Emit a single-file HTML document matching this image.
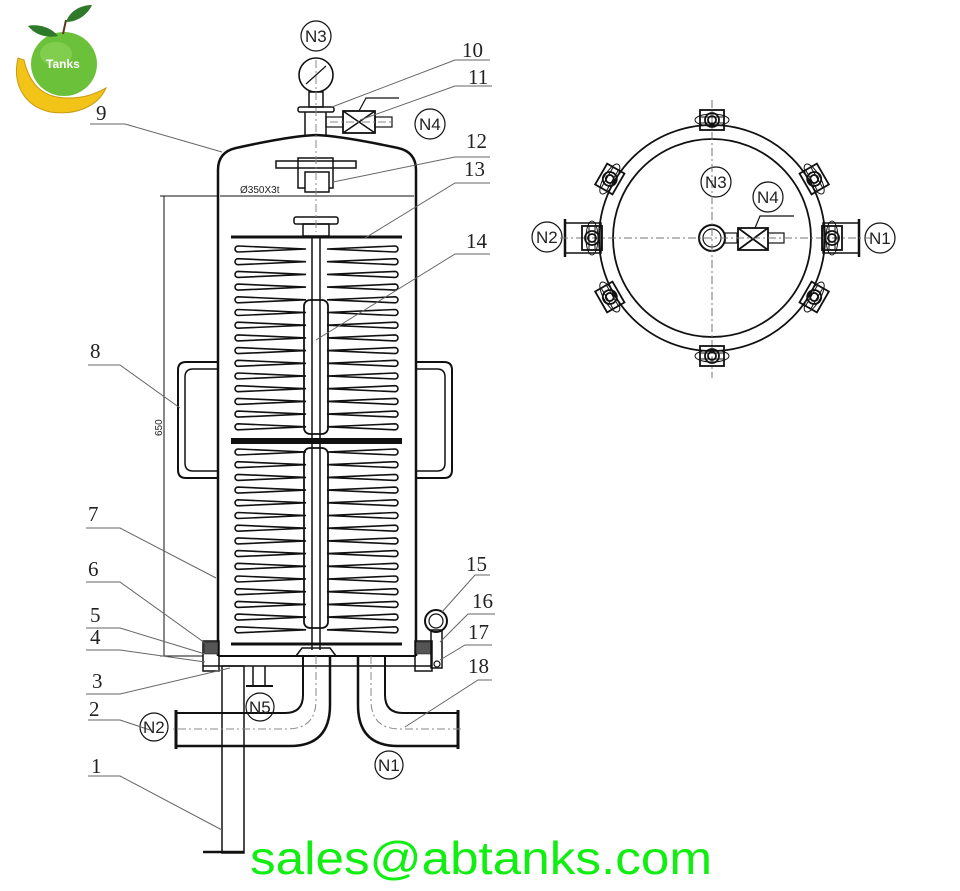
<!DOCTYPE html>
<html><head><meta charset="utf-8">
<style>
html,body{margin:0;padding:0;background:#fff;}
svg{display:block;}
text{font-family:"Liberation Serif",serif;fill:#222;}
.n text{font-family:"Liberation Sans",sans-serif;font-size:17px;}
</style></head>
<body>
<svg id="s" width="960" height="891" viewBox="0 0 960 891" xmlns="http://www.w3.org/2000/svg">
<!-- logo -->
<g>
  <path d="M18,58 C12,84 24,106 50,112 C76,116 98,106 106,88 C98,92 88,98 68,98 C44,98 30,86 24,60 Z" fill="#f2c418" stroke="#c99a10" stroke-width="1"/>
  <ellipse cx="64" cy="64" rx="33" ry="32" fill="#6cc13a"/>
  <ellipse cx="56" cy="54" rx="16" ry="12" fill="#8fd65a" opacity="0.6"/>
  <path d="M63,34 L66,20" stroke="#5a3a1a" stroke-width="2"/>
  <path d="M66,22 C70,10 82,5 92,5 C88,14 78,22 66,22 Z" fill="#2f7a2a"/>
  <path d="M58,36 C50,26 36,24 28,26 C36,36 48,38 58,36 Z" fill="#2f7a2a"/>
  <text x="46" y="68" style="font-family:'Liberation Sans',sans-serif;font-size:12px;font-weight:bold;fill:#fff">Tanks</text>
</g>

<g fill="none" stroke="#111" stroke-width="1.5" id="main">
  <circle cx="316" cy="36" r="15" stroke-width="1.2"/>
  <circle cx="316" cy="75" r="17" stroke-width="1.6"/>
  <line x1="306" y1="84" x2="326" y2="66" stroke-width="1.2"/>
  <rect x="309" y="92" width="14" height="15"/>
  <rect x="298" y="107" width="36" height="5" rx="2"/>
  <line x1="305" y1="112" x2="305" y2="136"/><line x1="326" y1="112" x2="326" y2="136"/>
  <rect x="326" y="117" width="17" height="10" stroke-width="1.2"/>
  <rect x="343" y="111" width="32" height="22" stroke-width="1.8"/>
  <line x1="343" y1="111" x2="375" y2="133"/><line x1="375" y1="111" x2="343" y2="133"/>
  <rect x="375" y="117" width="17" height="10" stroke-width="1.2"/>
  <polyline points="359,111 366,98 399,98" stroke-width="1.2"/>
  <circle cx="430" cy="124" r="15" stroke-width="1.2"/>

  <path d="M218,656 L218,170 Q218,152 236,148 Q290,136 316,135 Q342,136 398,148 Q416,152 416,170 L416,656" stroke-width="2.5"/>
  <line x1="218" y1="656" x2="416" y2="656" stroke-width="2"/>
  <line x1="203" y1="666" x2="432" y2="666" stroke-width="1.5"/>
  <rect x="203" y="641" width="16" height="30" stroke-width="1.5"/>
  <rect x="415" y="641" width="17" height="30" stroke-width="1.5"/>
  <rect x="204" y="642" width="14" height="12" fill="#555" stroke-width="0.5"/>
  <rect x="416" y="642" width="15" height="12" fill="#555" stroke-width="0.5"/>
  <circle cx="436" cy="621" r="11" stroke-width="2"/>
  <circle cx="436" cy="621" r="7" stroke-width="1.2"/>
  <rect x="431" y="630" width="11" height="38" stroke-width="1.5"/>
  <circle cx="437" cy="664" r="3" stroke-width="1.2"/>
  <line x1="220" y1="196" x2="414" y2="196" stroke-width="1"/>
  <line x1="160" y1="196" x2="218" y2="196" stroke-width="1"/>
  <line x1="164" y1="196" x2="164" y2="656" stroke-width="1"/>
  <line x1="160" y1="656" x2="203" y2="656" stroke-width="1"/>
  <rect x="276" y="161" width="80" height="7" stroke-width="1.5"/>
  <rect x="298" y="158" width="35" height="30" stroke-width="1.5"/>
  <rect x="305" y="172" width="24" height="20" fill="#fff" stroke-width="1.5"/>
  <rect x="294" y="217" width="44" height="7" rx="2" stroke-width="1.5"/>
  <rect x="303" y="224" width="26" height="12" stroke-width="1.5"/>
  <line x1="231" y1="237" x2="402" y2="237" stroke-width="3"/>
  <line x1="231" y1="441" x2="402" y2="441" stroke-width="6"/>
  <line x1="231" y1="644" x2="402" y2="644" stroke-width="3"/>
  <line x1="312" y1="237" x2="312" y2="650" stroke-width="1.5"/>
  <line x1="320" y1="237" x2="320" y2="650" stroke-width="1.5"/>
  <rect x="304" y="300" width="24" height="134" rx="6" stroke-width="1.8"/>
  <rect x="304" y="448" width="24" height="180" rx="6" stroke-width="1.8"/>
  <path d="M296,656 L302,648 L330,648 L336,656" stroke-width="1.5"/>
  <path d="M218,362 L186,362 Q178,362 178,370 L178,470 Q178,478 186,478 L218,478" stroke-width="2"/>
  <path d="M218,369 L193,369 Q185,369 185,377 L185,463 Q185,471 193,471 L218,471" stroke-width="1.5"/>
  <path d="M416,362 L444,362 Q452,362 452,370 L452,470 Q452,478 444,478 L416,478" stroke-width="2"/>
  <path d="M416,369 L437,369 Q445,369 445,377 L445,463 Q445,471 437,471 L416,471" stroke-width="1.5"/>
  <rect x="222" y="666" width="22" height="187" stroke-width="1.5"/>
  <line x1="203" y1="852" x2="244" y2="852" stroke-width="2.5"/>
  <line x1="253" y1="666" x2="253" y2="686"/><line x1="265" y1="666" x2="265" y2="686"/>
  <line x1="246" y1="686" x2="273" y2="686" stroke-width="2"/>
  <circle cx="260" cy="707" r="14" stroke-width="1.2"/>
  <path d="M303,656 L303,695 Q303,713 285,713 L177,713" stroke-width="2"/>
  <path d="M330,656 L330,705 Q330,746 290,746 L177,746" stroke-width="2.5"/>
  <line x1="176" y1="710" x2="176" y2="749" stroke-width="3"/>
  <circle cx="154" cy="727" r="14" stroke-width="1.2"/>
  <path d="M358,656 L358,705 Q358,746 398,746 L458,746" stroke-width="2.5"/>
  <path d="M385,656 L385,695 Q385,713 403,713 L458,713" stroke-width="2"/>
  <line x1="458" y1="710" x2="458" y2="749" stroke-width="3"/>
  <circle cx="389" cy="765" r="14" stroke-width="1.2"/>
</g>
<g stroke="#888" stroke-width="1" stroke-dasharray="8,3,2,3" fill="none">
  <line x1="316" y1="60" x2="316" y2="232"/>
  <path d="M316,656 L316,700 Q316,729 287,729 L170,729"/>
  <path d="M371,656 L371,700 Q371,729 400,729 L462,729"/>
  <line x1="330" y1="122" x2="392" y2="122"/>
</g>
<g id="fins" fill="none" stroke="#111" stroke-width="1.6"></g>

<g stroke="#666" stroke-width="1" fill="none">
  <polyline points="90,124 125,124 222,152"/>
  <polyline points="88,365 120,365 180,408"/>
  <polyline points="86,528 120,528 216,578"/>
  <polyline points="86,582 120,582 205,643"/>
  <polyline points="86,628 120,628 205,654"/>
  <polyline points="86,650 120,650 205,662"/>
  <polyline points="86,694 120,694 230,668"/>
  <polyline points="88,720 120,720 150,730"/>
  <polyline points="88,776 120,776 222,830"/>
  <polyline points="490,60 455,60 332,107"/>
  <polyline points="492,86 455,86 360,120"/>
  <polyline points="490,157 455,157 333,182"/>
  <polyline points="490,183 455,183 365,238"/>
  <polyline points="490,254 455,254 316,340"/>
  <polyline points="490,575 475,575 442,612"/>
  <polyline points="495,614 468,614 440,642"/>
  <polyline points="492,645 465,645 440,660"/>
  <polyline points="492,680 478,680 405,727"/>
</g>
<g style="font-size:21px">
  <text x="96" y="120">9</text><text x="90" y="358">8</text><text x="88" y="521">7</text>
  <text x="88" y="576">6</text><text x="90" y="622">5</text><text x="90" y="644">4</text>
  <text x="92" y="688">3</text><text x="89" y="716">2</text><text x="91" y="773">1</text>
  <text x="462" y="57">10</text><text x="468" y="84">11</text><text x="466" y="148">12</text>
  <text x="464" y="176">13</text><text x="466" y="248">14</text><text x="466" y="571">15</text>
  <text x="472" y="608">16</text><text x="468" y="639">17</text><text x="468" y="673">18</text>
</g>
<g class="n">
  <text x="305" y="42">N3</text><text x="419" y="130">N4</text>
  <text x="249" y="713">N5</text><text x="143" y="733">N2</text><text x="378" y="771">N1</text>
</g>
<text x="240" y="193" style="font-family:'Liberation Sans',sans-serif;font-size:10px">Ø350X3t</text>
<text transform="translate(162,436) rotate(-90)" style="font-family:'Liberation Sans',sans-serif;font-size:10px">650</text>

<g fill="none" stroke="#111" stroke-width="1.8">
  <circle cx="712" cy="238" r="113"/>
  <circle cx="712" cy="238" r="99"/>
  <circle cx="712" cy="238" r="13" stroke-width="2"/>
  <circle cx="712" cy="238" r="9" stroke-width="1.2"/>
  <rect x="725" y="233" width="12" height="10" stroke-width="1.2"/>
  <rect x="738" y="228" width="30" height="22" stroke-width="1.8"/>
  <line x1="738" y1="228" x2="768" y2="250"/><line x1="768" y1="228" x2="738" y2="250"/>
  <rect x="768" y="233" width="16" height="10" stroke-width="1.2"/>
  <polyline points="755,228 760,216 794,216" stroke-width="1.2"/>
  <rect x="565" y="223" width="36" height="30" stroke-width="1.5"/>
  <rect x="823" y="223" width="36" height="30" stroke-width="1.5"/>
  <line x1="565" y1="219" x2="565" y2="257" stroke-width="2.5"/>
  <line x1="859" y1="219" x2="859" y2="257" stroke-width="2.5"/>
  <circle cx="547" cy="237" r="15" stroke-width="1.2"/>
  <circle cx="880" cy="238" r="15" stroke-width="1.2"/>
  <circle cx="716" cy="182" r="15" stroke-width="1.2"/>
  <circle cx="768" cy="197" r="15" stroke-width="1.2"/>
</g>
<g stroke="#777" stroke-width="1" stroke-dasharray="8,3,2,3">
  <line x1="712" y1="100" x2="712" y2="378"/>
  <line x1="560" y1="238" x2="870" y2="238"/>
</g>
<g id="lugs" fill="none" stroke="#111" stroke-width="1.8"></g>
<g class="n"><text x="536" y="243">N2</text><text x="869" y="244">N1</text><text x="705" y="188">N3</text><text x="757" y="203">N4</text></g>

<text x="250" y="874" textLength="462" lengthAdjust="spacingAndGlyphs" style="font-family:'Liberation Sans',sans-serif;font-size:46px;fill:#11ee11">sales@abtanks.com</text>
</svg>
<script>
var f=document.getElementById('fins'),h='';
function fins(y0,y1){for(var y=y0;y<=y1;y+=12.7){
h+='<path d="M306,'+y+' L238,'+(y-3)+' A3,3 0 0 0 238,'+(y+3)+' Z"/>';
h+='<path d="M327,'+y+' L395,'+(y-3)+' A3,3 0 0 1 395,'+(y+3)+' Z"/>';}}
fins(249,432);fins(452,636);f.innerHTML=h;
var l=document.getElementById('lugs'),g='',ang=[-90,-30,30,90,150,210,0,180];
ang.forEach(function(a,i){var r=(i>=6)?120:118,cx=712+r*Math.cos(a*Math.PI/180),cy=238+r*Math.sin(a*Math.PI/180);
g+='<g transform="translate('+cx.toFixed(1)+','+cy.toFixed(1)+') rotate('+(a+90)+')"><rect x="-12" y="-10" width="24" height="20"/><circle r="7"/><circle r="4"/><ellipse rx="17" ry="6" stroke-width="1"/><line x1="-12" y1="-3" x2="12" y2="-3" stroke-width="1"/><line x1="-12" y1="3" x2="12" y2="3" stroke-width="1"/></g>';});
l.innerHTML=g;
</script>
</body></html>
